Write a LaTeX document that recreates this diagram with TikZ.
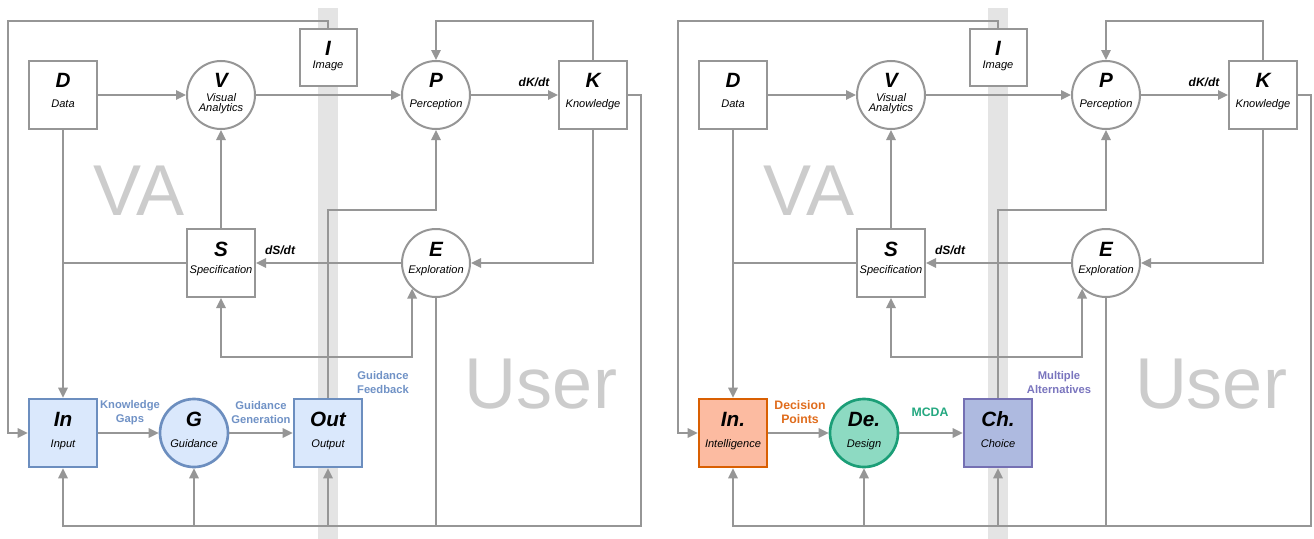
\documentclass[tikz,border=0pt]{standalone}
\usepackage{fontspec}
\setmainfont{Liberation Sans}
\usetikzlibrary{arrows.meta,calc}
\definecolor{lg}{RGB}{150,150,150}
\definecolor{stripc}{RGB}{228,228,228}
\definecolor{bigt}{RGB}{204,204,204}
\definecolor{bfill}{HTML}{DAE8FC}
\definecolor{bdraw}{HTML}{6C8EBF}
\definecolor{btext}{RGB}{112,146,198}
\definecolor{ofill}{RGB}{252,187,161}
\definecolor{odraw}{HTML}{D95F02}
\definecolor{otext}{RGB}{224,108,28}
\definecolor{gfill}{RGB}{141,218,194}
\definecolor{gdraw}{HTML}{1B9E77}
\definecolor{gtext}{RGB}{36,168,128}
\definecolor{pfill}{RGB}{174,186,224}
\definecolor{pdraw}{HTML}{7570B3}
\definecolor{ptext}{RGB}{122,117,190}
\newcommand\bigL{\fontsize{15.5pt}{16pt}\selectfont\bfseries\itshape}
\newcommand\subL{\fontsize{8.3pt}{7.5pt}\selectfont\itshape}
\newcommand\edL{\fontsize{9pt}{10pt}\selectfont\bfseries\itshape}
\newcommand\blL{\fontsize{8.4pt}{10.5pt}\selectfont\bfseries}
\newcommand\orL{\fontsize{9.2pt}{10.5pt}\selectfont\bfseries}
\newcommand\hugeL{\fontsize{54pt}{54pt}\selectfont}
\tikzset{
  sq/.style={draw=lg, line width=1.5pt, fill=white, minimum size=51pt, inner sep=0pt},
  circ/.style={circle, draw=lg, line width=1.5pt, fill=white, minimum size=51pt, inner sep=0pt},
  arr/.style={draw=lg, line width=1.5pt, -{Triangle[length=7.5pt,width=7pt]}},
  ln/.style={draw=lg, line width=1.5pt},
  txt/.style={inner sep=0pt, outer sep=0pt, anchor=base, align=center},
  colb/.style={line width=2pt},
}
\newcommand\stripandbig{%
  \fill[stripc] (318,8) rectangle (338,539);
  \node[txt, text=bigt, font=\hugeL] (VAt) at (139,215) {VA};
  \node[txt, text=bigt, font=\hugeL] (Usert) at (541,408) {User};
}
\newcommand\commonpart{%
  \coordinate (yT) at (0,21);
  \coordinate (yM) at (0,210);
  \coordinate (yJ) at (0,357);
  \coordinate (yB) at (0,526);
  \coordinate (xL) at (8,0);
  \coordinate (xR) at (641,0);
  \node[sq] (D) at (63,95) {};
  \node[txt, font=\bigL] (Dl) at (63,87) {D};
  \node[txt, font=\subL] (Ds) at (63,107) {Data};
  \node[circ] (V) at (221,95) {};
  \node[txt, font=\bigL] (Vl) at (221,87) {V};
  \node[txt, font=\subL] (Vs) at (221,111) {Visual\\Analytics};
  \node[sq, minimum size=42.75pt] (I) at (328,57) {};
  \node[txt, font=\bigL] (Il) at (328,55) {I};
  \node[txt, font=\subL] (Is) at (328,68) {Image};
  \node[circ] (P) at (436,95) {};
  \node[txt, font=\bigL] (Pl) at (436,87) {P};
  \node[txt, font=\subL] (Ps) at (436,107) {Perception};
  \node[sq] (K) at (593,95) {};
  \node[txt, font=\bigL] (Kl) at (593,87) {K};
  \node[txt, font=\subL] (Ks) at (593,107) {Knowledge};
  \node[sq] (S) at (221,263) {};
  \node[txt, font=\bigL] (Sl) at (221,256) {S};
  \node[txt, font=\subL] (Ss) at (221,273) {Specification};
  \node[circ] (E) at (436,263) {};
  \node[txt, font=\bigL] (El) at (436,256) {E};
  \node[txt, font=\subL] (Es) at (436,273) {Exploration};
  \draw[arr] (D) -- (V);
  \draw[arr] (V) -- (P);
  \draw[arr] (P) -- (K);
  \node[txt, font=\edL] (dKt) at (534,86.5) {dK/dt};
  \draw[arr] (K.north) -- (K.north |- yT) -| (P.north);
  \draw[arr] (K.south) |- (E.east);
  \draw[arr] (E) -- (S);
  \node[txt, font=\edL] (dSt) at (280,254) {dS/dt};
  \draw[arr] (S) -- (V);
  \draw[ln] (S.west) -- (S.west -| D.south);
  \draw[arr] (D) -- (In);
  \draw[arr] (I.north) -- (I.north |- yT) -| (xL |- In.west) -- (In.west);
  \draw[arr] (In) -- (G);
  \draw[arr] (G) -- (Out);
  \draw[arr] (Out.north) -- (Out.north |- yM) -| (P.south);
  \draw[arr] (Out.north |- yJ) -| (S.south);
  \draw[arr] (Out.north |- yJ) -| (E.227);
  \draw[ln] (E.south) -- (E.south |- yB);
  \draw[arr] (K.east) -| (xR |- yB) -| (In.south);
  \draw[arr] (G.south |- yB) -- (G.south);
  \draw[arr] (Out.south |- yB) -- (Out.south);
}
\begin{document}
\begin{tikzpicture}[x=0.75pt, y=-0.75pt]
\fill[white] (0,0) rectangle (1314,539);
\useasboundingbox (0,0) rectangle (1314,539);
% ---------- left panel ----------
\begin{scope}[name prefix=L-]
  \stripandbig
  \node[sq, colb, fill=bfill, draw=bdraw] (In) at (63,433) {};
  \node[txt, font=\bigL] (Inl) at (63,426) {In};
  \node[txt, font=\subL] (Ins) at (63,447) {Input};
  \node[circ, colb, fill=bfill, draw=bdraw] (G) at (194,433) {};
  \node[txt, font=\bigL] (Gl) at (194,426) {G};
  \node[txt, font=\subL] (Gs) at (194,447) {Guidance};
  \node[sq, colb, fill=bfill, draw=bdraw] (Out) at (328,433) {};
  \node[txt, font=\bigL] (Outl) at (328,426) {Out};
  \node[txt, font=\subL] (Outs) at (328,447) {Output};
  \commonpart
  \node[txt, font=\blL, text=btext] (kg) at (130,422) {Knowledge\\Gaps};
  \node[txt, font=\blL, text=btext] (gg) at (261,423) {Guidance\\Generation};
  \node[txt, font=\blL, text=btext] (gf) at (383,393) {Guidance\\Feedback};
\end{scope}
% ---------- right panel ----------
\begin{scope}[shift={(670,0)}, name prefix=R-]
  \stripandbig
  \node[sq, colb, fill=ofill, draw=odraw] (In) at (63,433) {};
  \node[txt, font=\bigL] (Inl) at (63,426) {In.};
  \node[txt, font=\subL] (Ins) at (63,447) {Intelligence};
  \node[circ, colb, fill=gfill, draw=gdraw] (G) at (194,433) {};
  \node[txt, font=\bigL] (Gl) at (194,426) {De.};
  \node[txt, font=\subL] (Gs) at (194,447) {Design};
  \node[sq, colb, fill=pfill, draw=pdraw] (Out) at (328,433) {};
  \node[txt, font=\bigL] (Outl) at (328,426) {Ch.};
  \node[txt, font=\subL] (Outs) at (328,447) {Choice};
  \commonpart
  \node[txt, font=\orL, text=otext] (dp) at (130,423) {Decision\\Points};
  \node[txt, font=\orL, text=gtext] (mc) at (260,416) {MCDA};
  \node[txt, font=\blL, text=ptext] (ma) at (389,393) {Multiple\\Alternatives};
\end{scope}
\end{tikzpicture}
\end{document}
